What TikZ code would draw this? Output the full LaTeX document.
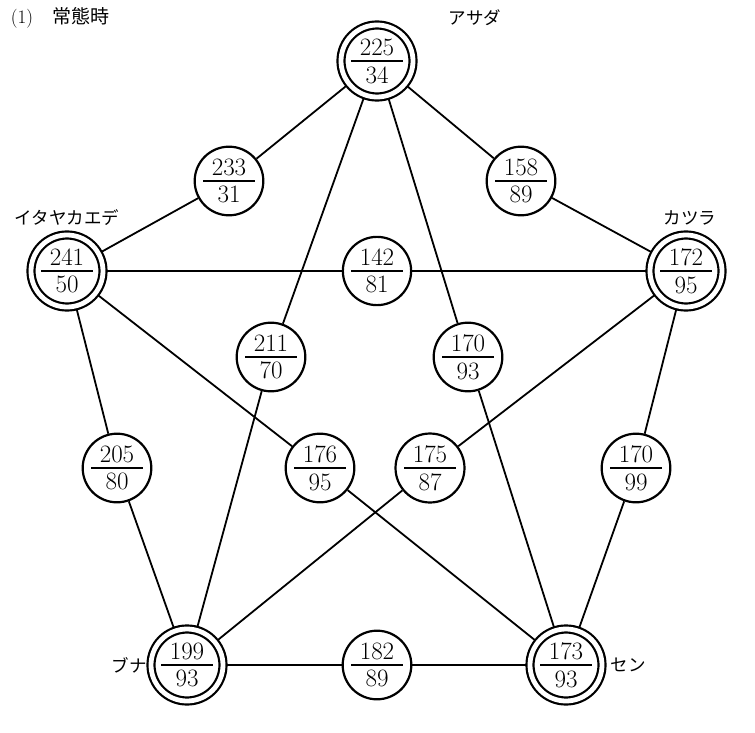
\documentclass[tikz,border=0pt]{standalone}
\usepackage{fontspec}
\newfontfamily\jp{Noto Sans CJK JP}
\newcommand{\frc}[2]{$\vcenter{\hbox to 52pt{\hfil#1\hfil}\kern4.5pt\hrule height 1.8pt\kern4.5pt\hbox to 52pt{\hfil#2\hfil}}$}

\begin{document}
\begin{tikzpicture}[x=1pt,y=-1pt,
    species/.style={circle,draw,line width=2.2pt,double,double distance=4.8pt,minimum size=72pt,inner sep=0pt,outer sep=3.5pt,font=\fontsize{25}{30}\selectfont},
    pair/.style={circle,draw,line width=2.2pt,minimum size=66pt,inner sep=0pt,font=\fontsize{25}{30}\selectfont},
    lbl/.style={font=\jp\fontsize{17.5}{20}\selectfont},
    link/.style={line width=1.8pt}]
      \useasboundingbox (0,0) rectangle (755,733);
      \node[font=\fontsize{19}{22}\selectfont] (title) at (60,18) {(1)\quad{\jp 常態時}};
      % trees
      \node[species] (asada) at (377,61) {\frc{225}{34}};
      \node[species] (itaya) at (67,271) {\frc{241}{50}};
      \node[species] (katsura) at (686,271) {\frc{172}{95}};
      \node[species] (buna) at (187,665) {\frc{199}{93}};
      \node[species] (sen) at (566,665) {\frc{173}{93}};
      \node[lbl] (lasada) at (475,18) {アサダ};
      \node[lbl] (litaya) at (67,218) {イタヤカエデ};
      \node[lbl] (lkatsura) at (690,218) {カツラ};
      \node[lbl] (lbuna) at (129,665) {ブナ};
      \node[lbl] (lsen) at (628,665) {セン};
      % pairs
      \node[pair] (ai) at (229,181) {\frc{233}{31}};
      \node[pair] (ak) at (521,181) {\frc{158}{89}};
      \node[pair] (ik) at (377,271) {\frc{142}{81}};
      \node[pair] (ab) at (271,357) {\frc{211}{70}};
      \node[pair] (as) at (468,357) {\frc{170}{93}};
      \node[pair] (ib) at (117,468) {\frc{205}{80}};
      \node[pair] (is) at (320,468) {\frc{176}{95}};
      \node[pair] (kb) at (430,468) {\frc{175}{87}};
      \node[pair] (ks) at (636,468) {\frc{170}{99}};
      \node[pair] (bs) at (377,665) {\frc{182}{89}};
      % links
      \draw[link] (asada) -- (ai) -- (itaya);
      \draw[link] (asada) -- (ak) -- (katsura);
      \draw[link] (itaya) -- (ik) -- (katsura);
      \draw[link] (asada) -- (ab) -- (buna);
      \draw[link] (asada) -- (as) -- (sen);
      \draw[link] (itaya) -- (ib) -- (buna);
      \draw[link] (itaya) -- (is) -- (sen);
      \draw[link] (katsura) -- (kb) -- (buna);
      \draw[link] (katsura) -- (ks) -- (sen);
      \draw[link] (buna) -- (bs) -- (sen);
\end{tikzpicture}
\end{document}
